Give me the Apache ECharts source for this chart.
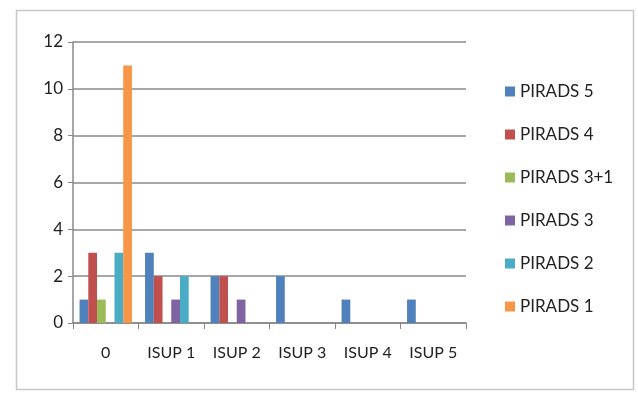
<!DOCTYPE html>
<html lang="en">
<head>
    <meta charset="UTF-8">
    <title>PIRADS vs ISUP</title>
    <script src="https://cdn.jsdelivr.net/npm/echarts@6/dist/echarts.min.js"></script>
    <style>
        html, body { margin: 0; padding: 0; background: #fff; }
        #container { width: 638px; height: 394px; }
    </style>
</head>
<body>
    <div id="container"></div>
    <script>
        // categories (ISUP grade) and counts per PIRADS score
        var categories = ['0', 'ISUP 1', 'ISUP 2', 'ISUP 3', 'ISUP 4', 'ISUP 5'];
        var pirads5 = [1, 3, 2, 2, 1, 1];
        var pirads4 = [3, 2, 2, 0, 0, 0];
        var pirads31 = [1, 0, 0, 0, 0, 0];
        var pirads3 = [0, 1, 1, 0, 0, 0];
        var pirads2 = [3, 2, 0, 0, 0, 0];
        var pirads1 = [11, 0, 0, 0, 0, 0];
        var seriesNames = ['PIRADS 5', 'PIRADS 4', 'PIRADS 3+1', 'PIRADS 3', 'PIRADS 2', 'PIRADS 1'];
        var seriesValues = [pirads5, pirads4, pirads31, pirads3, pirads2, pirads1];
        var colors = ['#4F81BD', '#C0504D', '#9BBB59', '#8064A2', '#4BACC6', '#F79646'];

        var font = 'Lato, "Open Sans", sans-serif';

        var myChart = echarts.init(document.getElementById('container'));

        var series = seriesNames.map(function (name, i) {
            return {
                name: name,
                type: 'bar',
                data: seriesValues[i],
                barGap: '0%',
                barCategoryGap: '20%',
                itemStyle: { color: colors[i] }
            };
        });

        myChart.setOption({
            backgroundColor: '#fff',
            color: colors,
            animation: false,
            graphic: [{
                type: 'rect',
                left: 14, top: 8,
                shape: { width: 617, height: 379 },
                style: { fill: 'none', stroke: '#c8c8c8', lineWidth: 1.5 }
            }],
            grid: { left: 73, right: 172, top: 42, bottom: 71 },
            legend: {
                orient: 'vertical',
                left: 500,
                top: 78,
                itemWidth: 10,
                itemHeight: 10,
                itemGap: 26,
                icon: 'rect',
                textStyle: { fontFamily: font, fontSize: 17, color: '#222' },
                data: seriesNames
            },
            xAxis: {
                type: 'category',
                data: categories,
                axisLine: { lineStyle: { color: '#888', width: 1.5 } },
                axisTick: { show: true, length: 6, lineStyle: { color: '#888' } },
                axisLabel: { interval: 0, fontFamily: font, fontSize: 16, color: '#222', margin: 22 }
            },
            yAxis: {
                type: 'value',
                min: 0, max: 12, interval: 2,
                axisLine: { show: true, lineStyle: { color: '#888', width: 1.5 } },
                axisTick: { show: true, length: 5, lineStyle: { color: '#888' } },
                axisLabel: { fontFamily: font, fontSize: 17, color: '#222', margin: 10 },
                splitLine: { lineStyle: { color: '#8a8a8a', width: 1.5 } }
            },
            series: series
        });
    </script>
</body>
</html>
